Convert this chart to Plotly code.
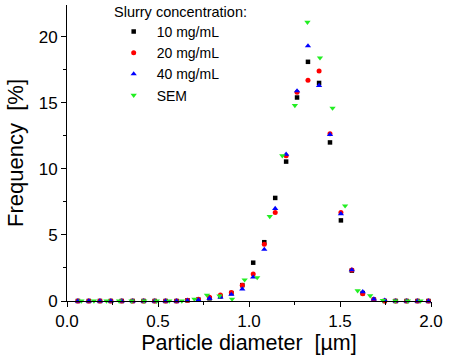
import plotly.graph_objects as go

x_bins = [0.060, 0.120, 0.181, 0.241, 0.301, 0.361, 0.421, 0.482, 0.542, 0.602,
          0.662, 0.722, 0.783, 0.843, 0.903, 0.963, 1.023, 1.084, 1.144, 1.204,
          1.264, 1.324, 1.385, 1.445, 1.505, 1.565, 1.625, 1.686, 1.746, 1.806,
          1.866, 1.926, 1.986]

freq_10 = [0, 0, 0, 0, 0, 0, 0, 0, 0, 0,
           0.05, 0.1, 0.2, 0.35, 0.6, 1.2, 2.9, 4.45, 7.8, 10.55,
           15.4, 18.1, 16.5, 12.0, 6.1, 2.3, 0.6, 0.1, 0, 0,
           0, 0, 0]
freq_20 = [0, 0, 0, 0, 0, 0, 0, 0, 0, 0,
           0.05, 0.13, 0.28, 0.45, 0.65, 1.2, 2.05, 4.3, 6.7, 11.0,
           15.8, 16.7, 17.4, 12.65, 6.7, 2.35, 0.55, 0.12, 0, 0,
           0, 0, 0]
freq_40 = [0, 0, 0, 0, 0, 0, 0, 0, 0, 0,
           0.03, 0.08, 0.2, 0.3, 0.5, 0.9, 1.8, 3.9, 7.0, 11.1,
           15.9, 19.3, 16.3, 12.6, 6.6, 2.35, 0.7, 0.15, 0.05, 0,
           0, 0, 0]

x_sem = [0.079, 0.148, 0.217, 0.286, 0.355, 0.424, 0.493, 0.562, 0.631, 0.700,
         0.769, 0.838, 0.907, 0.976, 1.045, 1.114, 1.183, 1.252, 1.321, 1.390,
         1.459, 1.528, 1.597, 1.666, 1.735, 1.804, 1.873, 1.942]
freq_sem = [0, 0, 0, 0, 0, 0, 0, 0, 0, 0.15,
            0.45, 0.38, 0.15, 1.6, 1.77, 6.4, 11.0, 14.8, 21.1, 18.4,
            14.6, 7.2, 0.78, 0.4, 0.05, 0, 0, 0]

legend_title = "Slurry concentration:"

series = [
    ("10 mg/mL", x_bins, freq_10, "square", "#000000", 4.5),
    ("20 mg/mL", x_bins, freq_20, "circle", "#ff0000", 5),
    ("40 mg/mL", x_bins, freq_40, "triangle-up", "#0000ff", 5.5),
    ("SEM", x_sem, freq_sem, "triangle-down", "#22ee22", 5.5),
]

fig = go.Figure()
for name, xs, ys, sym, col, sz in series:
    fig.add_trace(go.Scatter(
        x=xs, y=ys, mode="markers", name=name,
        marker=dict(symbol=sym, color=col, size=sz, line=dict(width=0)),
        cliponaxis=False,
    ))

font = "Liberation Sans, Arial, sans-serif"
fig.update_layout(
    width=453, height=363,
    margin=dict(l=67, r=22, t=5, b=62),
    paper_bgcolor="white", plot_bgcolor="white",
    font=dict(family=font, color="black", size=17),
    showlegend=True,
    legend=dict(
        font=dict(size=14),
        x=0.12, y=0.963, xanchor="left", yanchor="top",
        bgcolor="rgba(0,0,0,0)", itemsizing="trace",
        tracegroupgap=0, itemwidth=36,
    ),
    annotations=[dict(
        text=legend_title, xref="paper", yref="paper",
        x=0.124, y=0.976, xanchor="left", yanchor="middle",
        showarrow=False, font=dict(size=14.5),
    )],
    xaxis=dict(
        range=[0, 2.0], tickvals=[0, 0.5, 1.0, 1.5, 2.0],
        ticktext=["0.0", "0.5", "1.0", "1.5", "2.0"],
        showgrid=False, zeroline=False, showline=True, linecolor="black", linewidth=1,
        ticks="outside", ticklen=5, tickcolor="black",
        minor=dict(dtick=0.25, ticks="outside", ticklen=3, tickcolor="black", showgrid=False),
        title=dict(text="Particle diameter  [µm]", font=dict(size=21.5), standoff=4),
        tickfont=dict(size=17),
    ),
    yaxis=dict(
        range=[0, 22.4], tickvals=[0, 5, 10, 15, 20],
        showgrid=False, zeroline=False, showline=True, linecolor="black", linewidth=1,
        ticks="outside", ticklen=5, tickcolor="black",
        minor=dict(dtick=2.5, ticks="outside", ticklen=3, tickcolor="black", showgrid=False),
        title=dict(text="Frequency  [%]", font=dict(size=22), standoff=8),
        tickfont=dict(size=17),
    ),
)

fig.write_html("out.html")
